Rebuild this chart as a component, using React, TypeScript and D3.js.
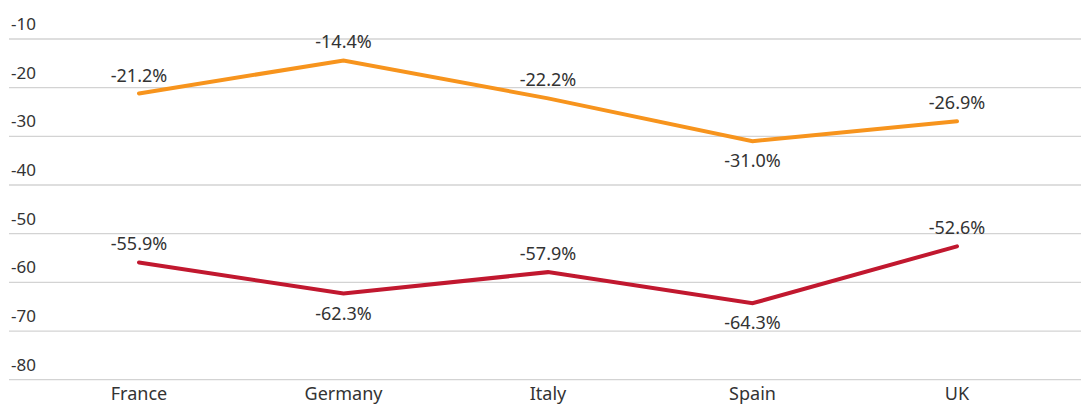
import React from "react";
import * as d3 from "d3";

const categories = ["France", "Germany", "Italy", "Spain", "UK"];
const orangeValues = [-21.2, -14.4, -22.2, -31.0, -26.9];
const redValues = [-55.9, -62.3, -57.9, -64.3, -52.6];
const orangeLabelPos = ["above", "above", "above", "below", "above"];
const redLabelPos = ["above", "below", "above", "below", "above"];
const yTicks = [-10, -20, -30, -40, -50, -60, -70, -80];

const W = 1081;
const H = 406;

export default function App() {
  const x = d3.scalePoint<string>().domain(categories).range([139, 957]);
  const y = d3.scaleLinear().domain([-10, -80]).range([39, 379.7]);
  const line = d3
    .line<number>()
    .x((_, i) => x(categories[i]) as number)
    .y((d) => y(d));
  const font = "'Noto Sans', sans-serif";
  const textColor = "#333";

  const series = [
    { values: orangeValues, pos: orangeLabelPos, color: "#F7941D" },
    { values: redValues, pos: redLabelPos, color: "#C1182F" },
  ];

  return (
    <svg
      width={W}
      height={H}
      style={{ position: "absolute", left: 0, top: 0, display: "block" }}
      fontFamily={font}
    >
      <rect width={W} height={H} fill="#fff" />
      {yTicks.map((t) => (
        <g key={t}>
          <line x1={9} x2={W} y1={y(t)} y2={y(t)} stroke="#d3d3d3" strokeWidth={1.3} />
          <text x={11} y={y(t) - 9} fontSize={17} fill={textColor}>
            {t}
          </text>
        </g>
      ))}
      {categories.map((c) => (
        <text key={c} x={x(c)} y={400} fontSize={18} fill={textColor} textAnchor="middle">
          {c}
        </text>
      ))}
      {series.map((s, si) => (
        <g key={si}>
          <path
            d={line(s.values) || ""}
            fill="none"
            stroke={s.color}
            strokeWidth={4}
            strokeLinejoin="miter"
            strokeLinecap="round"
          />
          {s.values.map((v, i) => (
            <text
              key={i}
              x={x(categories[i])}
              y={s.pos[i] === "above" ? y(v) - 12 : y(v) + 26}
              fontSize={18}
              fill={textColor}
              textAnchor="middle"
            >
              {v.toFixed(1) + "%"}
            </text>
          ))}
        </g>
      ))}
    </svg>
  );
}
